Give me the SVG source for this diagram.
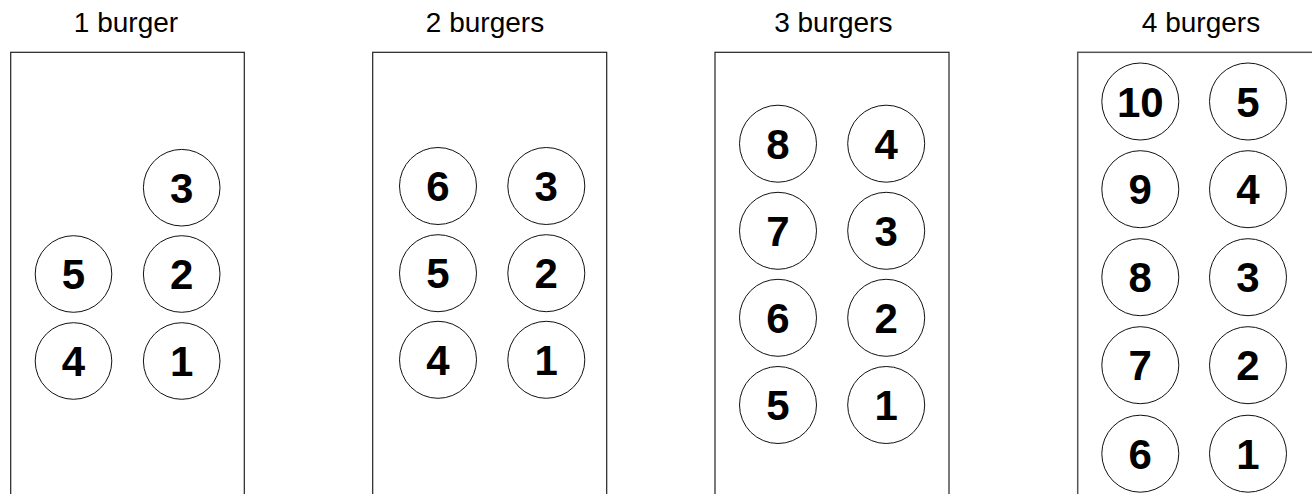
<svg xmlns="http://www.w3.org/2000/svg" width="1312" height="494" viewBox="0 0 1312 494">
<style>
.tray{fill:#fff;stroke:#222;stroke-width:1.2}
.title{font-family:"Liberation Sans",Arial,sans-serif;font-size:28px;fill:#000;text-anchor:middle}
.b circle{fill:#fff;stroke:#111;stroke-width:1}
.b text{font-family:"Liberation Sans",Arial,sans-serif;font-size:42px;font-weight:bold;fill:#000;text-anchor:middle}
</style>
<rect width="1312" height="494" fill="#fff"/>
<g id="panel1">
<text class="title" x="126" y="32">1 burger</text>
<rect class="tray" x="10.7" y="52.3" width="233.6" height="460"/>
<g id="p1n3" class="b"><circle cx="181.7" cy="187.7" r="38.3"/><text x="181.7" y="202.7">3</text></g>
<g id="p1n2" class="b"><circle cx="181.7" cy="274" r="38.3"/><text x="181.7" y="289">2</text></g>
<g id="p1n1" class="b"><circle cx="181.7" cy="361" r="38.3"/><text x="181.7" y="376">1</text></g>
<g id="p1n5" class="b"><circle cx="73.5" cy="274" r="38.3"/><text x="73.5" y="289">5</text></g>
<g id="p1n4" class="b"><circle cx="73.5" cy="361" r="38.3"/><text x="73.5" y="376">4</text></g>
</g>
<g id="panel2">
<text class="title" x="485" y="32">2 burgers</text>
<rect class="tray" x="372.7" y="52.3" width="234" height="460"/>
<g id="p2n6" class="b"><circle cx="438" cy="186" r="38.5"/><text x="438" y="201">6</text></g>
<g id="p2n5" class="b"><circle cx="438" cy="273.2" r="38.5"/><text x="438" y="288.2">5</text></g>
<g id="p2n4" class="b"><circle cx="438" cy="359.8" r="38.5"/><text x="438" y="374.8">4</text></g>
<g id="p2n3" class="b"><circle cx="546.3" cy="186" r="38.5"/><text x="546.3" y="201">3</text></g>
<g id="p2n2" class="b"><circle cx="546.3" cy="273.2" r="38.5"/><text x="546.3" y="288.2">2</text></g>
<g id="p2n1" class="b"><circle cx="546.3" cy="359.8" r="38.5"/><text x="546.3" y="374.8">1</text></g>
</g>
<g id="panel3">
<text class="title" x="833.3" y="32">3 burgers</text>
<rect class="tray" x="715" y="52.3" width="234" height="460"/>
<g id="p3n8" class="b"><circle cx="778" cy="143.7" r="38.5"/><text x="778" y="158.7">8</text></g>
<g id="p3n7" class="b"><circle cx="778" cy="230.8" r="38.5"/><text x="778" y="245.8">7</text></g>
<g id="p3n6" class="b"><circle cx="778" cy="317.8" r="38.5"/><text x="778" y="332.8">6</text></g>
<g id="p3n5" class="b"><circle cx="778" cy="405" r="38.5"/><text x="778" y="420">5</text></g>
<g id="p3n4" class="b"><circle cx="886.2" cy="143.7" r="38.5"/><text x="886.2" y="158.7">4</text></g>
<g id="p3n3" class="b"><circle cx="886.2" cy="230.8" r="38.5"/><text x="886.2" y="245.8">3</text></g>
<g id="p3n2" class="b"><circle cx="886.2" cy="317.8" r="38.5"/><text x="886.2" y="332.8">2</text></g>
<g id="p3n1" class="b"><circle cx="886.2" cy="405" r="38.5"/><text x="886.2" y="420">1</text></g>
</g>
<g id="panel4">
<text class="title" x="1201" y="32">4 burgers</text>
<rect class="tray" x="1077.7" y="52.3" width="236" height="460" style="stroke:#555;stroke-width:1.5"/>
<g id="p4n10" class="b"><circle cx="1140.3" cy="101.5" r="38.5"/><text x="1140.3" y="116.5">10</text></g>
<g id="p4n9" class="b"><circle cx="1140.3" cy="189.2" r="38.5"/><text x="1140.3" y="204.2">9</text></g>
<g id="p4n8" class="b"><circle cx="1140.3" cy="277.2" r="38.5"/><text x="1140.3" y="292.2">8</text></g>
<g id="p4n7" class="b"><circle cx="1140.3" cy="365.2" r="38.5"/><text x="1140.3" y="380.2">7</text></g>
<g id="p4n6" class="b"><circle cx="1140.3" cy="453.7" r="38.5"/><text x="1140.3" y="468.7">6</text></g>
<g id="p4n5" class="b"><circle cx="1248" cy="101.5" r="38.5"/><text x="1248" y="116.5">5</text></g>
<g id="p4n4" class="b"><circle cx="1248" cy="189.2" r="38.5"/><text x="1248" y="204.2">4</text></g>
<g id="p4n3" class="b"><circle cx="1248" cy="277.2" r="38.5"/><text x="1248" y="292.2">3</text></g>
<g id="p4n2" class="b"><circle cx="1248" cy="365.2" r="38.5"/><text x="1248" y="380.2">2</text></g>
<g id="p4n1" class="b"><circle cx="1248" cy="453.7" r="38.5"/><text x="1248" y="468.7">1</text></g>
</g>
<g id="connectors"/>
</svg>
